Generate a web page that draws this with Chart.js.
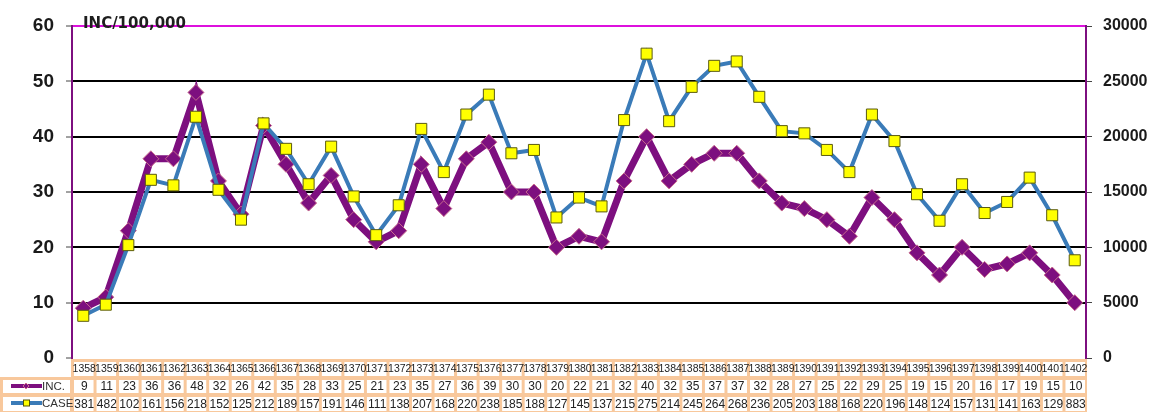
<!DOCTYPE html>
<html>
<head>
<meta charset="utf-8">
<script src="https://cdn.jsdelivr.net/npm/chart.js@4.4.1/dist/chart.umd.min.js"></script>
<style>
  html, body { margin: 0; padding: 0; background: #ffffff; }
  #wrap { width: 1154px; height: 412px; position: relative; }
</style>
</head>
<body>
<div id="wrap"><canvas id="c" width="1154" height="412"></canvas></div>
<script>
// ---- data ----
const years = ['1358','1359','1360','1361','1362','1363','1364','1365','1366','1367','1368','1369','1370','1371',
  '1372','1373','1374','1375','1376','1377','1378','1379','1380','1381','1382','1383','1384','1385','1386','1387','1388',
  '1389','1390','1391','1392','1393','1394','1395','1396','1397','1398','1399','1400','1401','1402'];
const incValues = [9,11,23,36,36,48,32,26,42,35,28,33,25,21,
  23,35,27,36,39,30,30,20,22,21,32,40,32,35,37,37,32,
  28,27,25,22,29,25,19,15,20,16,17,19,15,10];
const caseValues = [3814,4820,10200,16100,15600,21800,15200,12500,21200,18900,15700,19100,14600,11100,
  13800,20700,16800,22000,23800,18500,18800,12700,14500,13700,21500,27500,21400,24500,26400,26800,23600,
  20500,20300,18800,16800,22000,19600,14800,12400,15700,13100,14100,16300,12900,8830];
const incLabels = ['9','11','23','36','36','48','32','26','42','35','28','33','25','21',
  '23','35','27','36','39','30','30','20','22','21','32','40','32','35','37','37','32',
  '28','27','25','22','29','25','19','15','20','16','17','19','15','10'];
const caseLabels = ['381','482','102','161','156','218','152','125','212','189','157','191','146','111',
  '138','207','168','220','238','185','188','127','145','137','215','275','214','245','264','268','236',
  '205','203','188','168','220','196','148','124','157','131','141','163','129','883'];
const leftMax = 60, leftStep = 10;
const rightMax = 30000, rightStep = 5000;
const titleText = 'INC/100,000';

// ---- styles ----
const PURPLE = '#7d0f7f';
const BLUE = '#3a7bb8';
const YELLOW = '#ffff00';
const ORANGE = '#f8c89c';
const MAGENTA = '#dd10dd';

const tablePlugin = {
  id: 'dataTable',
  afterDraw(chart) {
    const ctx = chart.ctx;
    const xs = chart.scales.x;
    const area = chart.chartArea;
    const step = xs.getPixelForValue(1) - xs.getPixelForValue(0);
    const half = step / 2;
    const rows = [
      {y0: 359, y1: 377, labels: years, font: '10.5px Arial'},
      {y0: 377, y1: 394, labels: incLabels, font: '12px Arial'},
      {y0: 394, y1: 412, labels: caseLabels, font: '12px Arial'}
    ];
    ctx.save();
    ctx.fillStyle = ORANGE;
    ctx.fillRect(area.left - 1, 359, area.right - area.left + 2, 18);
    ctx.fillRect(0, 377, area.right + 1, 35);
    rows.forEach((r, ri) => {
      for (let i = 0; i < r.labels.length; i++) {
        const cx = xs.getPixelForValue(i);
        ctx.fillStyle = '#ffffff';
        ctx.fillRect(cx - half + 2, r.y0 + 3, step - 3, r.y1 - r.y0 - 4);
      }
      if (ri > 0) {
        ctx.fillStyle = '#ffffff';
        ctx.fillRect(3, r.y0 + 3, area.left - 5, r.y1 - r.y0 - 4);
      }
    });
    ctx.fillStyle = '#222';
    ctx.textAlign = 'center';
    ctx.textBaseline = 'middle';
    rows.forEach(r => {
      ctx.font = r.font;
      for (let i = 0; i < r.labels.length; i++) {
        const cx = xs.getPixelForValue(i);
        ctx.fillText(r.labels[i], cx + 1, (r.y0 + r.y1) / 2 + 1.5);
      }
    });
    const yInc = 386, yCase = 403;
    ctx.strokeStyle = PURPLE; ctx.lineWidth = 4;
    ctx.beginPath(); ctx.moveTo(11, yInc); ctx.lineTo(42, yInc); ctx.stroke();
    ctx.fillStyle = PURPLE; ctx.strokeStyle = '#d07090'; ctx.lineWidth = 1;
    ctx.beginPath(); ctx.moveTo(26, yInc - 3); ctx.lineTo(29, yInc); ctx.lineTo(26, yInc + 3); ctx.lineTo(23, yInc); ctx.closePath(); ctx.fill(); ctx.stroke();
    ctx.strokeStyle = BLUE; ctx.lineWidth = 4;
    ctx.beginPath(); ctx.moveTo(11, yCase); ctx.lineTo(42, yCase); ctx.stroke();
    ctx.fillStyle = YELLOW; ctx.strokeStyle = '#555500'; ctx.lineWidth = 1;
    ctx.fillRect(23.5, yCase - 3, 6, 6); ctx.strokeRect(23.5, yCase - 3, 6, 6);
    ctx.fillStyle = '#333';
    ctx.textAlign = 'left';
    ctx.font = '11.5px Arial';
    ctx.fillText('INC.', 42, yInc + 1);
    ctx.fillText('CASE', 42, yCase + 1);
    // title
    ctx.font = 'bold 15px "DejaVu Sans"';
    ctx.fillStyle = '#1e1e1e';
    ctx.textBaseline = 'alphabetic';
    ctx.fillText(titleText, 83, 28);
    ctx.restore();
  }
};

new Chart(document.getElementById('c'), {
  type: 'line',
  data: {
    labels: years,
    datasets: [
      {
        label: 'CASE',
        data: caseValues,
        yAxisID: 'y2',
        order: 0,
        borderColor: BLUE,
        borderWidth: 4,
        pointStyle: 'rect',
        pointRadius: 7.8,
        pointHoverRadius: 7.8,
        pointBackgroundColor: YELLOW,
        pointBorderColor: '#5a5a10',
        pointBorderWidth: 1,
        tension: 0
      },
      {
        label: 'INC.',
        data: incValues,
        yAxisID: 'y',
        order: 1,
        borderColor: PURPLE,
        borderWidth: 7,
        pointStyle: 'rectRot',
        pointRadius: 8,
        pointHoverRadius: 8,
        pointBackgroundColor: PURPLE,
        pointBorderColor: '#c76a8c',
        pointBorderWidth: 1,
        tension: 0
      }
    ]
  },
  options: {
    responsive: false,
    animation: false,
    layout: { padding: { top: 26, left: 0, right: 0, bottom: 0 } },
    plugins: { legend: { display: false }, tooltip: { enabled: false }, title: { display: false } },
    scales: {
      x: {
        type: 'category',
        offset: true,
        grid: { display: false },
        border: { display: false },
        ticks: { display: false },
        afterFit(s) { s.height = 54; }
      },
      y: {
        position: 'left',
        min: 0, max: leftMax,
        ticks: {
          stepSize: leftStep,
          font: { family: 'Arial', size: 19, weight: 'bold' },
          color: '#1a1a1a',
          padding: 12
        },
        grid: {
          color: c => (c.tick && c.tick.value === leftMax) ? MAGENTA : (c.tick && c.tick.value === 0 ? 'rgba(0,0,0,0)' : '#000000'),
          lineWidth: 2,
          tickLength: 6,
          tickColor: '#444444',
          tickWidth: 1
        },
        border: { display: true, color: PURPLE, width: 2 },
        afterFit(s) { s.width = 72; }
      },
      y2: {
        position: 'right',
        min: 0, max: rightMax,
        ticks: {
          stepSize: rightStep,
          font: { family: 'Arial', size: 16, weight: 'bold' },
          color: '#1a1a1a',
          padding: 11,
          callback: v => String(v)
        },
        grid: {
          drawOnChartArea: false,
          tickLength: 6,
          tickColor: '#444444',
          tickWidth: 1
        },
        border: { display: true, color: PURPLE, width: 2 },
        afterFit(s) { s.width = 68; }
      }
    }
  },
  plugins: [tablePlugin]
});
</script>
</body>
</html>
